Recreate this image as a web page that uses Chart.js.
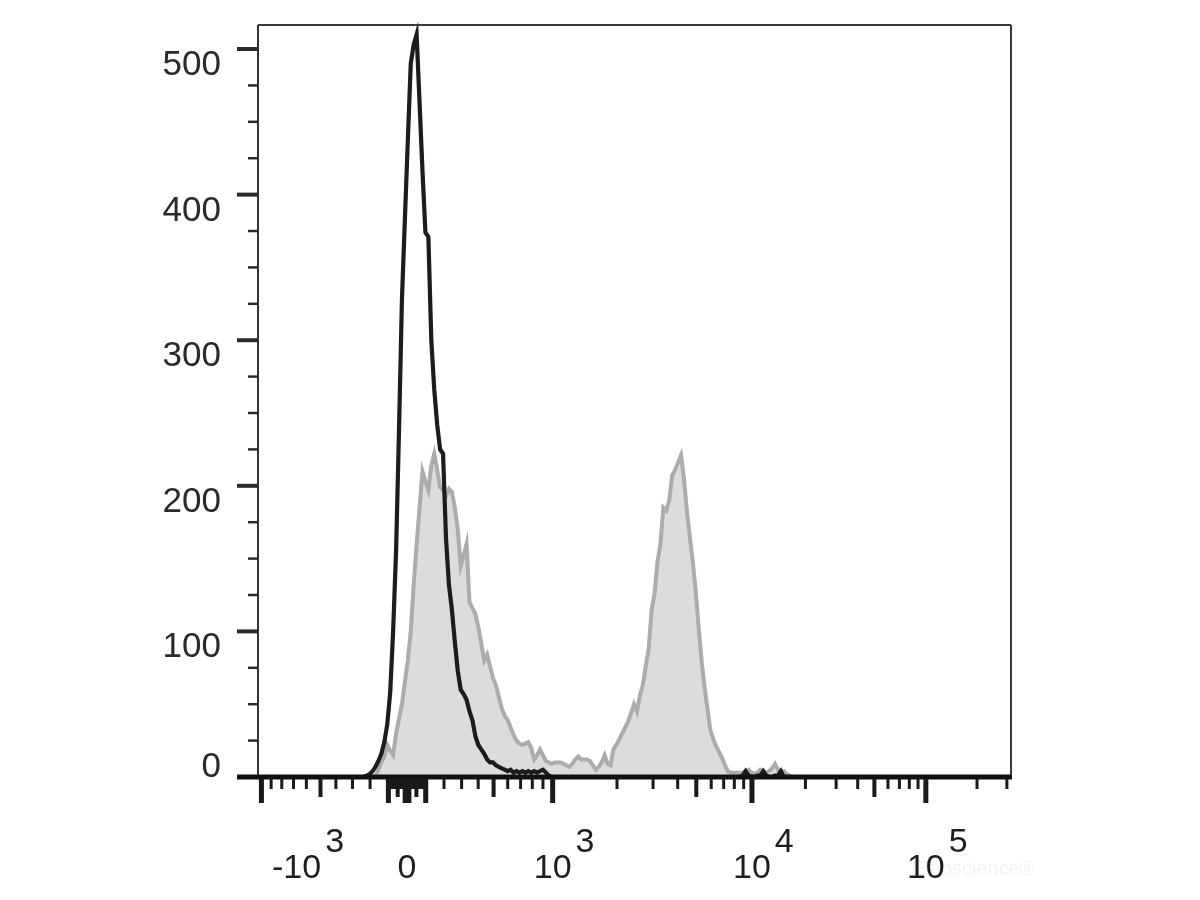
<!DOCTYPE html>
<html>
<head>
<meta charset="utf-8">
<script src="https://cdn.jsdelivr.net/npm/chart.js@4"></script>
<style>
  html, body { margin: 0; padding: 0; background: #ffffff; }
  #wrap { width: 1200px; height: 900px; }
</style>
</head>
<body>
<div id="wrap"><canvas id="c" width="1200" height="900"></canvas></div>
<script>
// ---------- data (counts per display channel, 256 channels across the axis) ----------
const channelCount = 256;

// unstained / isotype control (black line)
const blackStart = 36;
const blackCounts = [0,1,2,4,7,11,16,24,36,58,100,155,238,328,383,437,490,503,510,463,416,374,371,300,266,242,225,222,164,132,115,93,73,60,57,53,45,39,28,22,19,16,12,10,10,8,7,6,5,4,5,3,4,3,4,3,4,3,4,3,4,5,3,1,0];
const blackTailStart = 164;
const blackTail = [0,1,4,1,0,0,1,1,4,1,0,0,1,1,4,0];

// stained sample (grey filled)
const grayStart = 39;
const grayCounts = [0,1,5,10,14,22,18,15,30,40,50,65,80,100,132,160,185,210,203,197,214,222,211,199,197,193,198,196,185,170,145,152,160,120,116,112,103,92,80,84,76,68,63,55,47,42,39,34,29,25,23,22,23,24,20,12,15,19,15,11,10,9,10,10,10,9,8,7,9,12,14,12,12,12,11,8,5,7,10,15,9,8,19,22,26,30,34,38,44,50,45,56,63,76,88,115,126,148,160,185,183,190,207,211,216,221,205,183,165,148,128,103,80,62,47,32,26,21,17,13,8,4,3,3,3,3,3,4,5,3,2,3,5,4,3,4,6,9,5,3,4,2,1,0];

// axis ticks
const yMajorTicks = [0, 100, 200, 300, 400, 500];
const yMinorStep = 25;
const yMax = 516.5;
const xLabelValues = [-1000, 0, 1000, 10000, 100000];
const xLabelBase = ['-10', '0', '10', '10', '10'];
const xLabelExp = ['3', '', '3', '4', '5'];

// ---------- biexponential (logicle) display transform ----------
const T = 312000, M = 4.45, Wd = 0.882;
function solveP(w) {
  let lo = 1.0001, hi = 100, mid = 2;
  for (let i = 0; i < 80; i++) {
    mid = (lo + hi) / 2;
    const f = 2 * mid * Math.log10(mid) / (mid + 1);
    if (f < w) lo = mid; else hi = mid;
  }
  return mid;
}
const P = solveP(Wd);
function S(y) {
  if (y < Wd) return -S(2 * Wd - y);
  const d = y - Wd;
  return T * Math.pow(10, Wd - M) * (Math.pow(10, d) - P * P * Math.pow(10, -d / P) + P * P - 1);
}
function toChannel(v) {
  let lo = -2, hi = M + 2;
  for (let i = 0; i < 80; i++) {
    const mid = (lo + hi) / 2;
    if (S(mid) < v) lo = mid; else hi = mid;
  }
  return (lo + hi) / 2 / M * channelCount;
}

// ---------- build series ----------
function buildSeries(parts) {
  const arr = [];
  for (let c = 0; c <= channelCount; c++) arr.push({ x: c, y: 0 });
  parts.forEach(([start, counts]) => {
    counts.forEach((v, i) => { if (start + i <= channelCount) arr[start + i].y = v; });
  });
  return arr;
}
const blackData = buildSeries([[blackStart, blackCounts], [blackTailStart, blackTail]]);
const grayData = buildSeries([[grayStart, grayCounts]]);

// tick list for x axis
const xTicks = [{ v: 0, kind: 'major' }];
for (let n = 1; n <= 5; n++) {
  for (let m = 1; m <= 9; m++) {
    const v = m * Math.pow(10, n);
    const kind = m === 1 ? 'major' : (m === 5 ? 'medium' : 'minor');
    xTicks.push({ v: v, kind: kind });
    if (v <= 1000) xTicks.push({ v: -v, kind: kind });
  }
}

const FONT = '"Liberation Sans", Arial, Helvetica, sans-serif';

const axesPlugin = {
  id: 'flowAxes',
  afterDraw(chart) {
    const ctx = chart.ctx;
    const { left, right, top, bottom } = chart.chartArea;
    const xs = chart.scales.x, ys = chart.scales.y;
    ctx.save();
    // frame
    ctx.strokeStyle = '#3a3a3a';
    ctx.lineWidth = 2;
    ctx.beginPath();
    ctx.moveTo(left, top); ctx.lineTo(right + 1, top);
    ctx.moveTo(right + 1, top); ctx.lineTo(right + 1, bottom);
    ctx.stroke();
    ctx.lineWidth = 2;
    ctx.strokeStyle = '#333';
    ctx.beginPath();
    ctx.moveTo(left, top); ctx.lineTo(left, bottom);
    ctx.stroke();

    // y ticks
    ctx.strokeStyle = '#2a2a2a';
    for (let v = 0; v <= ys.max + 0.001; v += yMinorStep) {
      const y = ys.getPixelForValue(v);
      const major = yMajorTicks.includes(v);
      ctx.lineWidth = major ? 4 : 2.5;
      ctx.beginPath();
      ctx.moveTo(left - (major ? 21 : 10), y);
      ctx.lineTo(left, y);
      ctx.stroke();
    }
    // y labels
    ctx.fillStyle = '#2a2a2a';
    ctx.font = '35px ' + FONT;
    ctx.textAlign = 'right';
    ctx.textBaseline = 'alphabetic';
    yMajorTicks.forEach(v => {
      const y = ys.getPixelForValue(v);
      ctx.fillText(String(v), left - 37, v === 0 ? y : y + 26);
    });

    // x axis line
    const y0 = ys.getPixelForValue(0);
    ctx.strokeStyle = '#111';
    ctx.lineWidth = 5;
    ctx.beginPath();
    ctx.moveTo(left - 21, y0);
    ctx.lineTo(right + 2, y0);
    ctx.stroke();

    // x ticks
    xTicks.forEach(t => {
      const c = toChannel(t.v);
      if (c < 0 || c > channelCount) return;
      const x = xs.getPixelForValue(c);
      let len, w;
      if (t.kind === 'major') { len = 24; w = 5; }
      else if (t.kind === 'medium') { len = 18; w = 4; }
      else { len = 10; w = 3; }
      ctx.fillStyle = '#1a1a1a';
      ctx.fillRect(x - w / 2, y0 + 2, w, len);
    });

    // watermark
    ctx.fillStyle = 'rgba(0,0,0,0.05)';
    ctx.font = '20px ' + FONT;
    ctx.textAlign = 'left';
    ctx.fillText('Elabscience\u00ae', 912, 875);

    // x labels
    ctx.fillStyle = '#1e1e1e';
    ctx.font = '34px ' + FONT;
    ctx.textAlign = 'left';
    xLabelValues.forEach((v, i) => {
      const x = xs.getPixelForValue(toChannel(v));
      const base = xLabelBase[i];
      const bw = ctx.measureText(base).width;
      let x0 = x - bw / 2;
      if (x0 < left + 14) x0 = left + 14;
      ctx.fillText(base, x0, 878);
      if (xLabelExp[i]) ctx.fillText(xLabelExp[i], x0 + bw + 4, 852);
    });
    ctx.restore();
  }
};

new Chart(document.getElementById('c'), {
  type: 'line',
  data: {
    datasets: [
      {
        label: 'Control',
        data: blackData,
        borderColor: '#1c1c1c',
        borderWidth: 4.2,
        pointRadius: 0,
        fill: false,
        tension: 0,
        clip: 6
      },
      {
        label: 'Stained',
        data: grayData,
        borderColor: '#acacac',
        backgroundColor: '#dcdcdc',
        borderWidth: 4,
        pointRadius: 0,
        fill: 'origin',
        tension: 0,
        clip: 6
      }
    ]
  },
  options: {
    responsive: false,
    animation: false,
    layout: { padding: { left: 258, right: 190, top: 25, bottom: 123 } },
    plugins: { legend: { display: false }, tooltip: { enabled: false } },
    scales: {
      x: { type: 'linear', min: 0, max: channelCount, display: false },
      y: { type: 'linear', min: 0, max: yMax, display: false }
    }
  },
  plugins: [axesPlugin]
});
</script>
</body>
</html>
